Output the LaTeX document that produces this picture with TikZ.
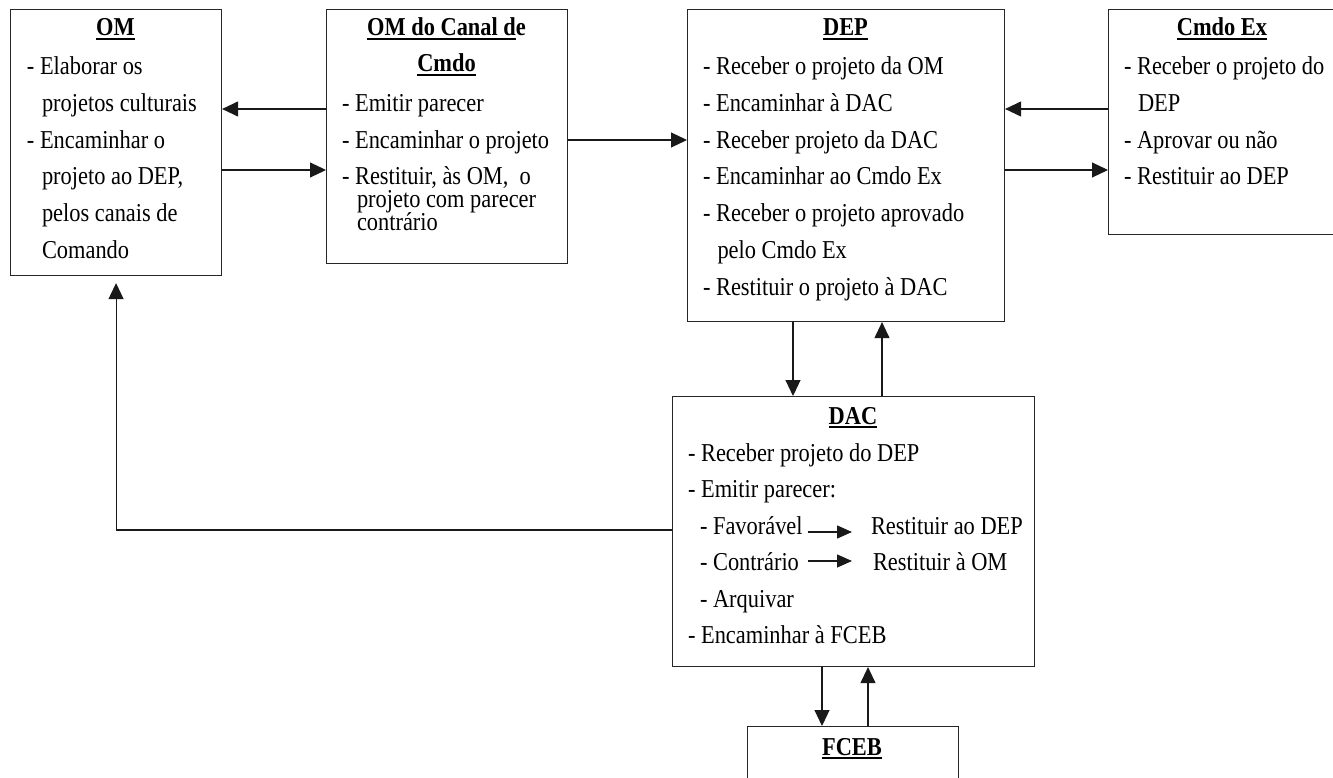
\documentclass[tikz,border=0pt]{standalone}
\usepackage{fontspec}
\usepackage{graphicx}
\setmainfont{Liberation Serif}
\usetikzlibrary{arrows.meta}
\newcommand\ulx[1]{\setbox0\hbox{#1}\rlap{\rule[-3.2pt]{\wd0}{1.5pt}}\box0}
\newcommand\vs[1]{\scalebox{1}[1.15]{#1}}
\tikzset{
  box/.style={draw=black!85, line width=1.1pt, inner sep=0pt, anchor=north west},
  txt/.style={inner sep=0pt, outer sep=0pt, anchor=base west, font=\fontsize{22.4pt}{27pt}\selectfont},
  ttl/.style={inner sep=0pt, outer sep=0pt, anchor=base, font=\fontsize{22.4pt}{27pt}\selectfont\bfseries},
  arr/.style={draw=black!90, line width=1.1pt, -{Triangle[length=16pt,width=15pt]}},
  iarr/.style={draw=black!90, line width=1.1pt, -{Triangle[length=15pt,width=13pt]}}
}
\begin{document}
\begin{tikzpicture}[x=1pt,y=-1pt]
\useasboundingbox (0,0) rectangle (1333,778);
% boxes
\node[box, minimum width=211pt, minimum height=266pt] (OM) at (10,9) {};
\node[box, minimum width=241pt, minimum height=254pt] (Canal) at (326,9) {};
\node[box, minimum width=317pt, minimum height=312pt] (DEP) at (687,9) {};
\node[box, minimum width=230pt, minimum height=225pt] (Cmdo) at (1108,9) {};
\node[box, minimum width=362pt, minimum height=270pt] (DAC) at (672,396) {};
\node[box, minimum width=211pt, minimum height=80pt] (FCEB) at (747,726) {};
% OM text
\node[ttl] (OMt) at (115.5,36) {\vs{\ulx{OM}}};
\node[txt] (om1) at (27,75) {\vs{- Elaborar os}};
\node[txt] (om2) at (42,111.7) {\vs{projetos culturais}};
\node[txt] (om3) at (27,148.3) {\vs{- Encaminhar o}};
\node[txt] (om4) at (42,185) {\vs{projeto ao DEP,}};
\node[txt] (om5) at (42,221.7) {\vs{pelos canais de}};
\node[txt] (om6) at (42,258.3) {\vs{Comando}};
% Canal text
\node[ttl] (Canalt1) at (446.5,36) {\vs{\ulx{OM do Canal d}e}};
\node[ttl] (Canalt2) at (446.5,72) {\vs{\ulx{Cmdo}}};
\node[txt] (ca1) at (342,111.7) {\vs{- Emitir parecer}};
\node[txt] (ca2) at (342,148.3) {\vs{- Encaminhar o projeto}};
\node[txt] (ca3) at (342,185) {\vtop{\lineskiplimit=-100pt\baselineskip=22.7pt
  \hbox{\vs{- Restituir, às OM,\ \ o}}
  \hbox{\hspace*{15pt}\vs{projeto com parecer}}
  \hbox{\hspace*{15pt}\vs{contrário}}}};
% DEP text
\node[ttl] (DEPt) at (845.5,36) {\vs{\ulx{DEP}}};
\node[txt] (de1) at (703,75) {\vs{- Receber o projeto da OM}};
\node[txt] (de2) at (703,111.7) {\vs{- Encaminhar à DAC}};
\node[txt] (de3) at (703,148.3) {\vs{- Receber projeto da DAC}};
\node[txt] (de4) at (703,185) {\vs{- Encaminhar ao Cmdo Ex}};
\node[txt] (de5) at (703,221.7) {\vs{- Receber o projeto aprovado}};
\node[txt] (de6) at (717.5,258.3) {\vs{pelo Cmdo Ex}};
\node[txt] (de7) at (703,295) {\vs{- Restituir o projeto à DAC}};
% Cmdo Ex text
\node[ttl] (Cmdot) at (1222,36) {\vs{\ulx{Cmdo Ex}}};
\node[txt] (cm1) at (1124,75) {\vs{- Receber o projeto do}};
\node[txt] (cm2) at (1138,111.7) {\vs{DEP}};
\node[txt] (cm3) at (1124,148.3) {\vs{- Aprovar ou não}};
\node[txt] (cm4) at (1124,185) {\vs{- Restituir ao DEP}};
% DAC text
\node[ttl] (DACt) at (853,424) {\vs{\ulx{DAC}}};
\node[txt] (da1) at (688,461) {\vs{- Receber projeto do DEP}};
\node[txt] (da2) at (688,497) {\vs{- Emitir parecer:}};
\node[txt] (fav) at (700,534) {\vs{- Favorável}};
\node[txt] (rdep) at (871,534) {\vs{Restituir ao DEP}};
\node[txt] (con) at (700,570) {\vs{- Contrário}};
\node[txt] (rom) at (873,570) {\vs{Restituir à OM}};
\node[txt] (da5) at (700,607) {\vs{- Arquivar}};
\node[txt] (da6) at (688,643) {\vs{- Encaminhar à FCEB}};
% FCEB text
\node[ttl] (FCEBt) at (852,755) {\vs{\ulx{FCEB}}};
% helper levels
\coordinate (h109) at (0,109);
\coordinate (h140) at (0,140);
\coordinate (h170) at (0,170);
\coordinate (h530) at (0,530);
\coordinate (v793) at (793,0);
\coordinate (v882) at (882,0);
\coordinate (v822) at (822,0);
\coordinate (v868) at (868,0);
% connectors
\draw[arr] (Canal.west |- h109) -- (OM.east |- h109);
\draw[arr] (OM.east |- h170) -- (Canal.west |- h170);
\draw[arr] (Canal.east |- h140) -- (DEP.west |- h140);
\draw[arr] (Cmdo.west |- h109) -- (DEP.east |- h109);
\draw[arr] (DEP.east |- h170) -- (Cmdo.west |- h170);
\draw[arr] (DEP.south -| v793) -- (DAC.north -| v793);
\draw[arr] (DAC.north -| v882) -- (DEP.south -| v882);
\draw[arr] (DAC.south -| v822) -- (FCEB.north -| v822);
\draw[arr] (FCEB.north -| v868) -- (DAC.south -| v868);
\draw[arr] (DAC.west |- h530) -| ([yshift=-7pt]OM.south);
\draw[iarr] ([xshift=5pt,yshift=2pt]fav.base east) -- ([xshift=-19pt,yshift=2pt]rdep.base west);
\draw[iarr] ([xshift=9pt,yshift=9pt]con.base east) -- ([xshift=-21pt,yshift=9pt]rom.base west);
\end{tikzpicture}
\end{document}
